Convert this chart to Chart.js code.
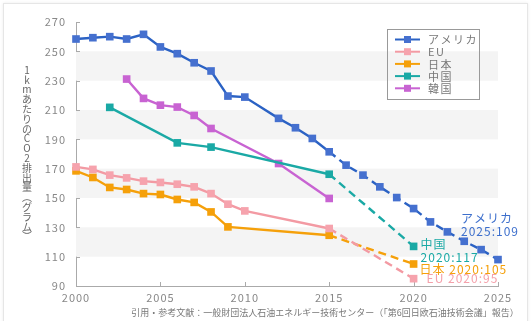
<!DOCTYPE html>
<html>
<head>
<meta charset="utf-8">
<script src="https://cdn.jsdelivr.net/npm/chart.js@4/dist/chart.umd.min.js"></script>
<style>
  html, body { margin: 0; padding: 0; background: #fff; overflow: hidden; }
  #frame { position: absolute; left: 3px; top: 3px; width: 523px; height: 340px;
           border: 1px solid #e6e6e6; box-shadow: 0 0 3px rgba(0,0,0,0.08); }
  #chart { position: absolute; left: 0; top: 0; }
</style>
</head>
<body>
<div id="frame"></div>
<canvas id="chart" width="532" height="321"></canvas>
<script>
// 1kmあたりのCO2排出量（グラム）
const seriesNames = ['アメリカ', 'EU', '日本', '中国', '韓国'];

const usYears  = [2000, 2001, 2002, 2003, 2004, 2005, 2006, 2007, 2008, 2009, 2010, 2012, 2013, 2014, 2015,
                  2016, 2017, 2018, 2019, 2020, 2021, 2022, 2023, 2024, 2025];
const usValues = [258.4, 259.3, 260, 258.4, 261.6, 253, 248.4, 242.2, 236.6, 219.5, 218.8, 204.3, 197.9, 190.6, 181.5,
                  172.4, 165.6, 157.6, 150.3, 142.8, 133.7, 126.9, 120.5, 114.8, 108];

const euYears  = [2000, 2001, 2002, 2003, 2004, 2005, 2006, 2007, 2008, 2009, 2010, 2015, 2020];
const euValues = [171.2, 169.5, 165.6, 163.7, 161.5, 160.6, 159.4, 157.6, 153, 145.8, 141.2, 129.2, 95];

const jpYears  = [2000, 2001, 2002, 2003, 2004, 2005, 2006, 2007, 2008, 2009, 2015, 2020];
const jpValues = [168.5, 164, 157.2, 155.8, 153, 152.4, 149, 147, 140.5, 130.3, 124.6, 105];

const cnYears  = [2002, 2006, 2008, 2015, 2020];
const cnValues = [211.8, 187.6, 184.7, 166.2, 117];

const krYears  = [2003, 2004, 2005, 2006, 2007, 2008, 2012, 2015];
const krValues = [231.1, 217.9, 213.3, 212, 206.3, 197.4, 173.5, 149.7];

const forecastFrom = 2015;
const yTitle = '1kmあたりのCO2排出量︵グラム︶';
const footer = '引用・参考文献：一般財団法人石油エネルギー技術センター（「第6回日欧石油技術会議」報告）';
// end-of-line labels: series index and text lines
const noteSeries = [0, 3, 2, 1];
const noteLines  = [['アメリカ', '2025:109'], ['中国', '2020:117'], ['日本 2020:105'], ['EU 2020:95']];

const lineColors  = ['#2b62c4', '#f39aa3', '#f5a00a', '#1aa9a5', '#c863d2'];
const pointColors = ['#4570cf', '#f6a3ad', '#f5a00a', '#1aa9a5', '#c863d2'];
const noteColors  = ['#3d6fcc', '#f4a0aa', '#f5a00a', '#1aa9a5', '#c863d2'];
const noteOffsets = [[[-37, -41], [-37, -28]], [[7, -2], [7, 11]], [[6, 5]], [[13, 0]]];
const FONT = '"Noto Sans CJK JP", "Noto Sans", sans-serif';

const pts = (xs, ys) => xs.map((x, i) => ({ x, y: ys[i] }));
const allData = [pts(usYears, usValues), pts(euYears, euValues), pts(jpYears, jpValues),
                 pts(cnYears, cnValues), pts(krYears, krValues)];

const datasets = allData.map((data, i) => ({
  label: seriesNames[i],
  data,
  borderColor: lineColors[i],
  backgroundColor: pointColors[i],
  pointBackgroundColor: pointColors[i],
  pointBorderWidth: 0,
  pointStyle: 'rect',
  pointRadius: 5.4,
  borderWidth: 2.4,
  tension: 0,
  clip: false,
  segment: { borderDash: c => c.p0.parsed.x >= forecastFrom ? [8, 5] : undefined },
}));

const decor = {
  id: 'decor',
  beforeDraw(chart) {
    chart.ctx.letterSpacing = '1px';
  },
  beforeDatasetsDraw(chart) {
    const { ctx, chartArea: a, scales: { x, y } } = chart;
    ctx.save();
    ctx.fillStyle = '#f4f4f4';
    const t = y.ticks;
    for (let i = 1; i < t.length - 1; i += 2) {
      const y0 = y.getPixelForValue(t[i].value), y1 = y.getPixelForValue(t[i + 1].value);
      ctx.fillRect(a.left, y1, a.right - a.left, y0 - y1);
    }
    // short inward tick marks
    ctx.strokeStyle = '#aaa';
    ctx.lineWidth = 1;
    ctx.beginPath();
    t.forEach(k => { const py = Math.round(y.getPixelForValue(k.value)) + 0.5; ctx.moveTo(a.left, py); ctx.lineTo(a.left + 4, py); });
    x.ticks.forEach(k => { const px = Math.round(x.getPixelForValue(k.value)) + 0.5; ctx.moveTo(px, a.bottom); ctx.lineTo(px, a.bottom - 4); });
    ctx.stroke();
    ctx.restore();
  },
  afterDraw(chart) {
    const { ctx } = chart;
    ctx.save();
    // vertical y title
    ctx.letterSpacing = '0px';
    ctx.fillStyle = '#666';
    ctx.font = '10px ' + FONT;
    ctx.textAlign = 'center';
    ctx.textBaseline = 'middle';
    [...yTitle].forEach((ch, i) => ctx.fillText(ch, 27, 70 + i * 9.8));

    // footer
    ctx.font = '9px ' + FONT;
    ctx.fillStyle = '#777';
    ctx.fillText(footer, 325, 313);

    // legend
    ctx.strokeStyle = '#999';
    ctx.lineWidth = 1;
    ctx.strokeRect(387.5, 29.5, 92, 70);
    ctx.letterSpacing = '1.5px';
    ctx.font = '11px ' + FONT;
    ctx.textAlign = 'left';
    seriesNames.forEach((name, i) => {
      const ly = 39.5 + i * 12.2;
      ctx.strokeStyle = lineColors[i];
      ctx.lineWidth = 2;
      ctx.beginPath(); ctx.moveTo(395, ly); ctx.lineTo(420, ly); ctx.stroke();
      ctx.fillStyle = pointColors[i];
      ctx.fillRect(404, ly - 3.5, 7, 7);
      ctx.fillStyle = '#777';
      ctx.fillText(name, 428, ly + 0.5);
    });

    // end labels
    ctx.font = '12px ' + FONT;
    ctx.letterSpacing = '1px';
    noteSeries.forEach((si, j) => {
      const meta = chart.getDatasetMeta(si);
      const p = meta.data[meta.data.length - 1];
      ctx.fillStyle = noteColors[si];
      noteLines[j].forEach((txt, k) => {
        const [dx, dy] = noteOffsets[j][k];
        ctx.fillText(txt, p.x + dx, p.y + dy);
      });
    });
    ctx.restore();
  }
};

new Chart(document.getElementById('chart'), {
  type: 'line',
  data: { datasets },
  options: {
    responsive: false,
    animation: false,
    layout: { padding: { top: 22, right: 34, bottom: 15, left: 0 } },
    plugins: { legend: { display: false }, tooltip: { enabled: false } },
    scales: {
      x: {
        type: 'linear', min: 2000, max: 2025,
        afterFit: s => { s.height = 20; },
        grid: { display: false, drawTicks: false },
        border: { display: true, color: '#aaa', width: 1 },
        ticks: { stepSize: 5, padding: 5, color: '#888', font: { family: FONT, size: 11 }, callback: v => String(v) },
      },
      y: {
        min: 90, max: 270,
        afterFit: s => { s.width = 76; },
        grid: { display: false, drawTicks: false },
        border: { display: true, color: '#aaa', width: 1 },
        ticks: { stepSize: 20, padding: 10, color: '#888', font: { family: FONT, size: 11 } },
      },
    },
  },
  plugins: [decor],
});
</script>
</body>
</html>
